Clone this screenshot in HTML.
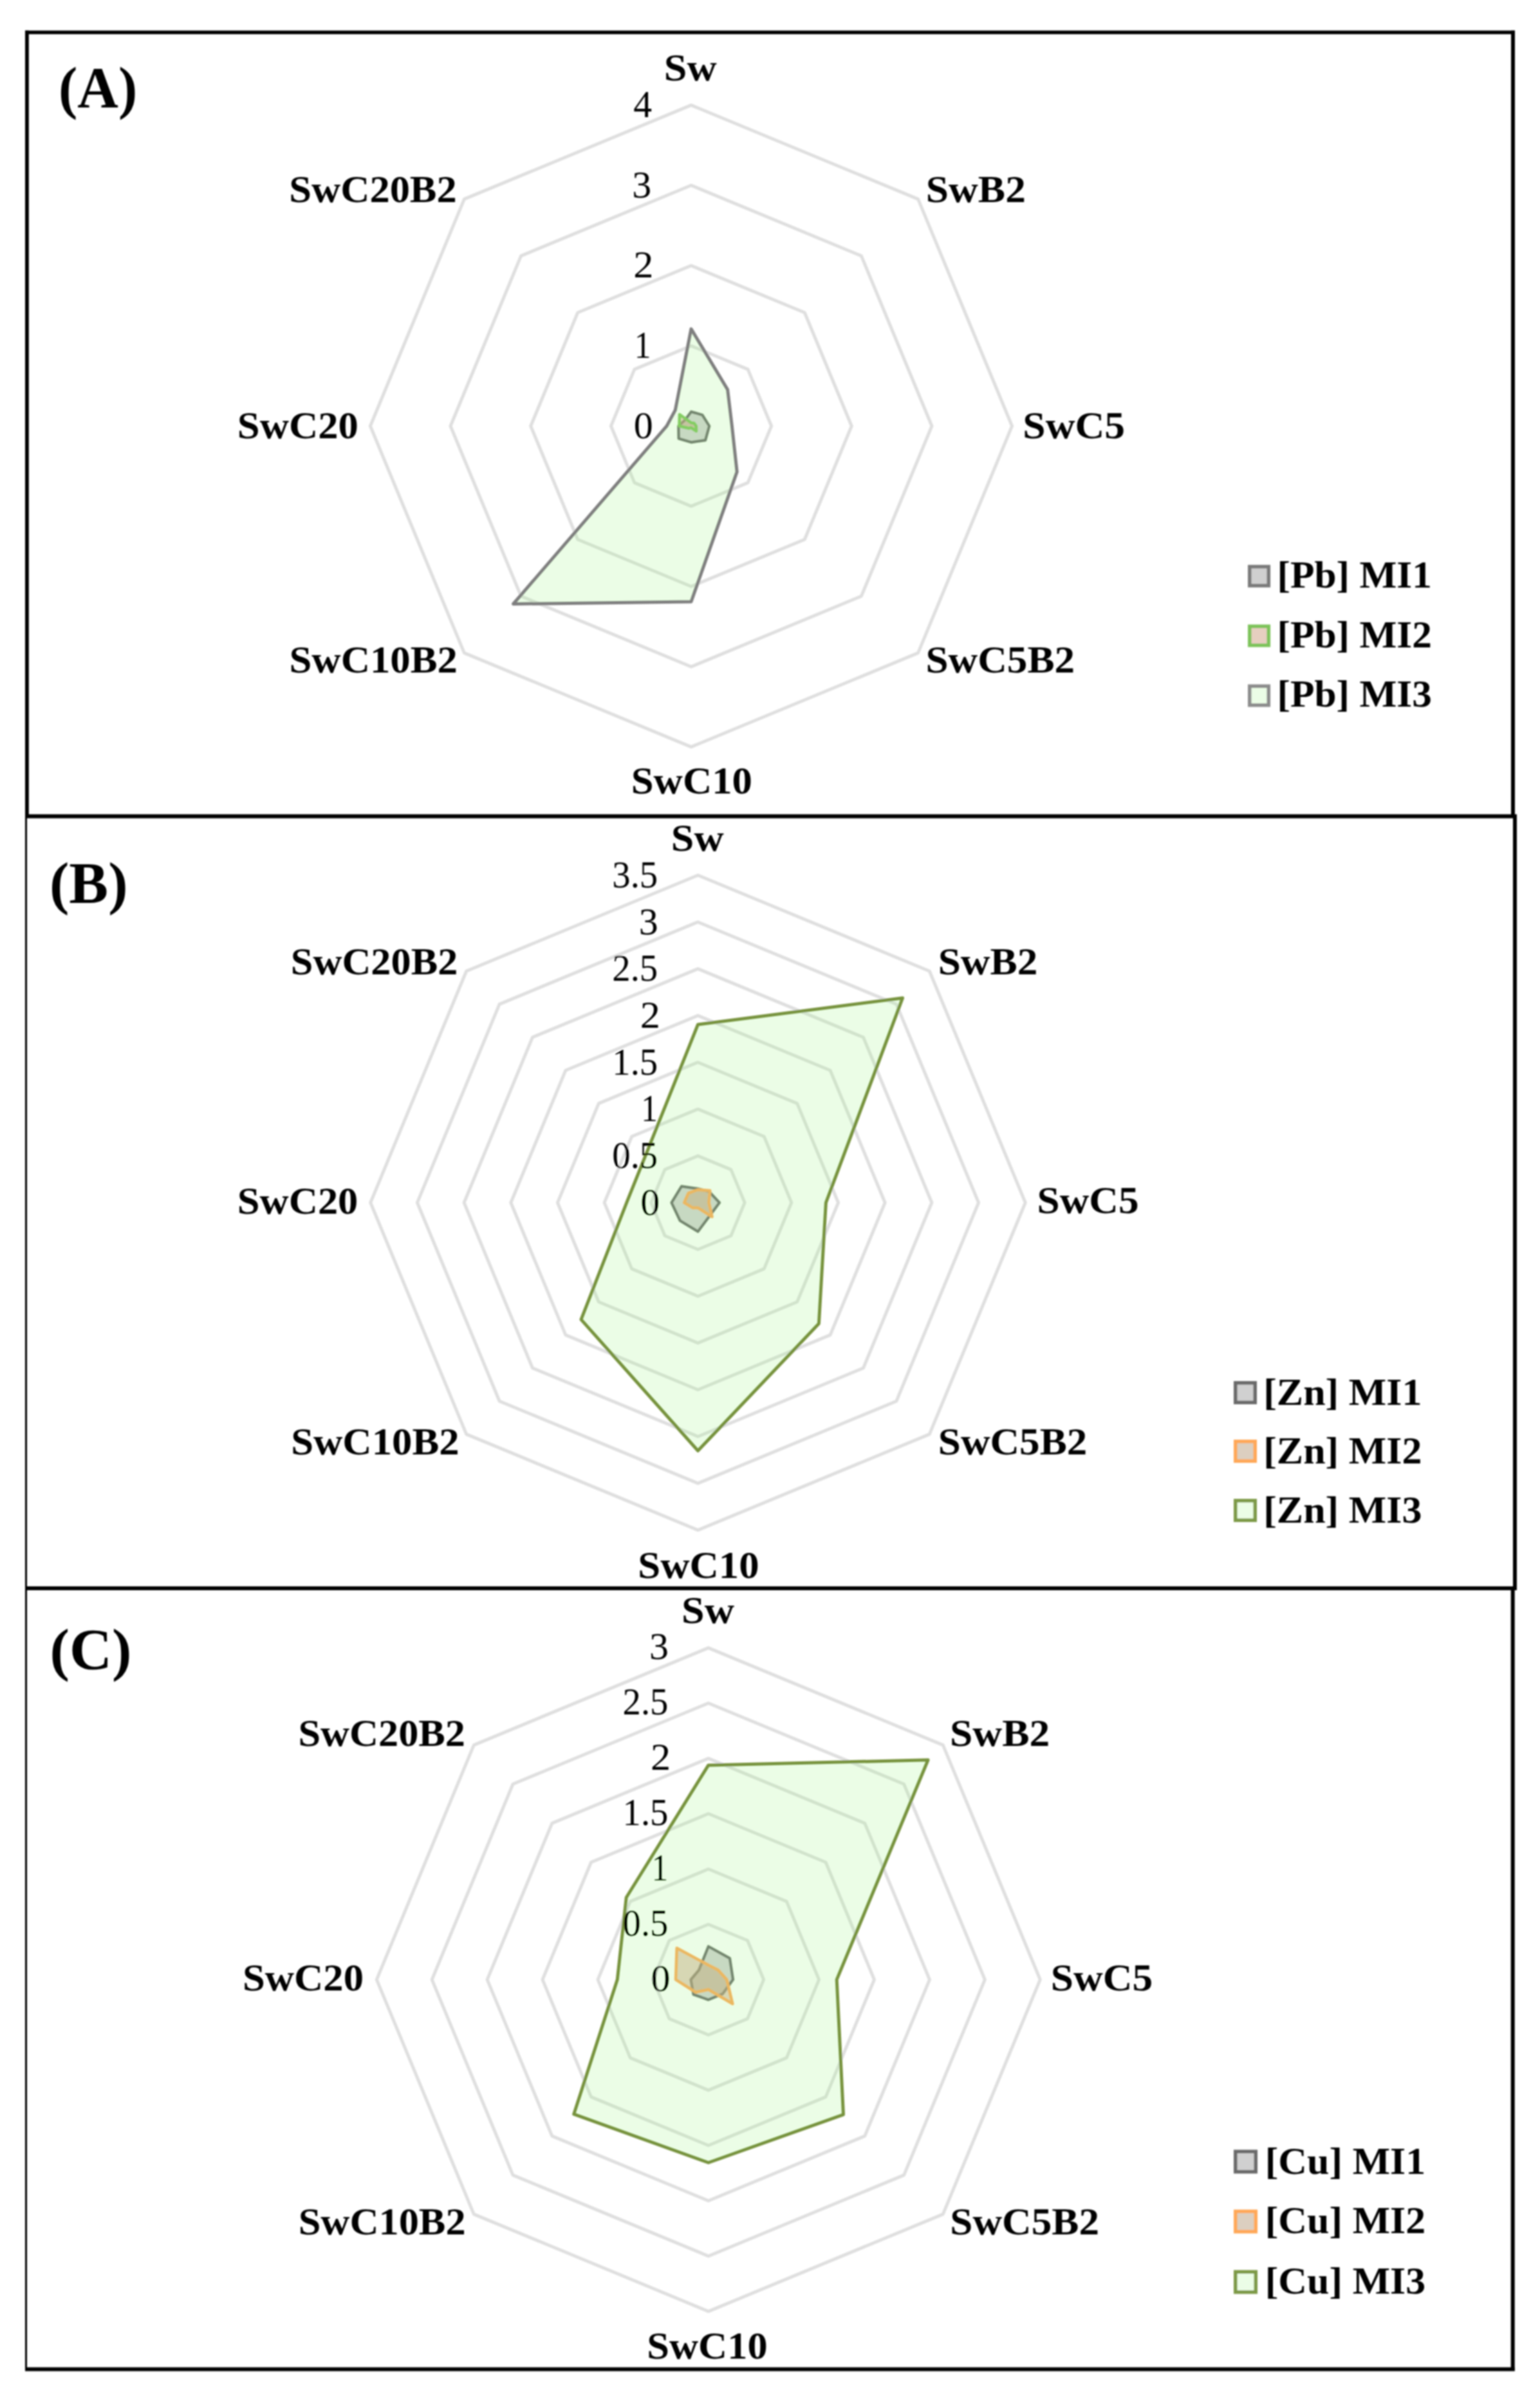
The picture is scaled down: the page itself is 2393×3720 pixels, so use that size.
<!DOCTYPE html>
<html lang="en"><head><meta charset="utf-8">
<style>html,body{margin:0;padding:0;background:#fff}svg{display:block}text{font-family:'Liberation Serif', 'DejaVu Serif', serif;fill:#000}</style></head><body>
<svg width="2393" height="3720" viewBox="0 0 2393 3720">
<rect width="2393" height="3720" fill="#fff"/>
<defs><filter id="soft" x="0" y="0" width="2393" height="3720" filterUnits="userSpaceOnUse"><feGaussianBlur stdDeviation="1.0"/></filter></defs>
<g filter="url(#soft)">
<g fill="none" stroke="#dfdfdf" stroke-width="5.0" stroke-linejoin="round">
<polygon points="1074.0,537.4 1162.1,573.9 1198.7,662.0 1162.1,750.1 1074.0,786.6 985.9,750.1 949.4,662.0 985.9,573.9"/>
<polygon points="1074.0,412.7 1250.3,485.7 1323.3,662.0 1250.3,838.3 1074.0,911.3 897.7,838.3 824.7,662.0 897.7,485.7"/>
<polygon points="1074.0,288.0 1338.4,397.6 1448.0,662.0 1338.4,926.4 1074.0,1036.0 809.6,926.4 700.0,662.0 809.6,397.6"/>
<polygon points="1074.0,163.4 1426.6,309.4 1572.6,662.0 1426.6,1014.6 1074.0,1160.6 721.4,1014.6 575.4,662.0 721.4,309.4"/>
</g>
<polygon points="1074.0,639.7 1091.3,644.7 1102.2,662.0 1096.1,684.1 1074.0,687.3 1054.6,681.4 1054.3,662.0 1064.5,652.5" fill="rgba(165,165,165,0.5)" stroke="#6a6a6a" stroke-width="4.2" stroke-linejoin="round"/>
<polygon points="1074.0,657.0 1078.5,657.5 1081.7,662.0 1081.9,669.9 1074.0,664.6 1070.5,665.5 1055.5,662.0 1056.0,644.0" fill="rgba(205,160,130,0.5)" stroke="#7dc35a" stroke-width="4.6" stroke-linejoin="round"/>
<polygon points="1074.0,511.1 1130.6,605.4 1137.4,662.0 1145.2,733.2 1074.0,935.0 797.5,938.5 1036.0,662.0 1049.3,637.3" fill="rgba(153,245,130,0.2)" stroke="#7f7f7f" stroke-width="5.0" stroke-linejoin="round"/>
<text x="984.7" y="680.5" font-size="60" font-weight="normal" text-anchor="start">0</text>
<text transform="translate(985.64 555.9) scale(0.8600 1)" font-size="60" font-weight="normal" text-anchor="start">1</text>
<text transform="translate(984.22 431.2) scale(1.0400 1)" font-size="60" font-weight="normal" text-anchor="start">2</text>
<text x="982.2" y="306.5" font-size="60" font-weight="normal" text-anchor="start">3</text>
<text transform="translate(984.16 181.9) scale(0.9600 1)" font-size="60" font-weight="normal" text-anchor="start">4</text>
<text transform="translate(1031.79 125.0) scale(1.0685 1)" font-size="60" font-weight="bold" text-anchor="start">Sw</text>
<text transform="translate(1438.83 314.0) scale(1.0567 1)" font-size="60" font-weight="bold" text-anchor="start">SwB2</text>
<text transform="translate(1589.32 681.0) scale(1.0586 1)" font-size="60" font-weight="bold" text-anchor="start">SwC5</text>
<text transform="translate(1438.44 1044.5) scale(1.0533 1)" font-size="60" font-weight="bold" text-anchor="start">SwC5B2</text>
<text transform="translate(980.66 1232.5) scale(1.0463 1)" font-size="60" font-weight="bold" text-anchor="start">SwC10</text>
<text transform="translate(449.46 1044.7) scale(1.0459 1)" font-size="60" font-weight="bold" text-anchor="start">SwC10B2</text>
<text transform="translate(368.87 681.0) scale(1.0446 1)" font-size="60" font-weight="bold" text-anchor="start">SwC20</text>
<text transform="translate(449.37 314.0) scale(1.0418 1)" font-size="60" font-weight="bold" text-anchor="start">SwC20B2</text>
<text transform="translate(90.99 167.0) scale(0.9786 1)" font-size="90" font-weight="bold" text-anchor="start">(A)</text>
<rect x="1941.8" y="880.5" width="29.5" height="29.5" fill="#d0d0d0" stroke="#7a7a7a" stroke-width="5.5"/>
<text transform="translate(1984.48 912.7) scale(1.0238 1)" font-size="60" font-weight="bold" text-anchor="start">[Pb] MI1</text>
<rect x="1941.8" y="973.2" width="29.5" height="29.5" fill="#e6cfc0" stroke="#7dc35a" stroke-width="5.5"/>
<text transform="translate(1984.48 1006.0) scale(1.0238 1)" font-size="60" font-weight="bold" text-anchor="start">[Pb] MI2</text>
<rect x="1941.8" y="1066.2" width="29.5" height="29.5" fill="#ebfde6" stroke="#8c8c8c" stroke-width="5.5"/>
<text transform="translate(1984.48 1098.4) scale(1.0238 1)" font-size="60" font-weight="bold" text-anchor="start">[Pb] MI3</text>
<g fill="none" stroke="#dfdfdf" stroke-width="5.0" stroke-linejoin="round">
<polygon points="1084.5,1796.1 1135.9,1817.4 1157.2,1868.8 1135.9,1920.2 1084.5,1941.5 1033.1,1920.2 1011.8,1868.8 1033.1,1817.4"/>
<polygon points="1084.5,1723.4 1187.3,1766.0 1229.9,1868.8 1187.3,1971.6 1084.5,2014.2 981.7,1971.6 939.1,1868.8 981.7,1766.0"/>
<polygon points="1084.5,1650.7 1238.7,1714.6 1302.6,1868.8 1238.7,2023.0 1084.5,2086.9 930.3,2023.0 866.4,1868.8 930.3,1714.6"/>
<polygon points="1084.5,1578.1 1290.1,1663.2 1375.2,1868.8 1290.1,2074.4 1084.5,2159.5 878.9,2074.4 793.8,1868.8 878.9,1663.2"/>
<polygon points="1084.5,1505.4 1341.5,1611.8 1447.9,1868.8 1341.5,2125.8 1084.5,2232.2 827.5,2125.8 721.1,1868.8 827.5,1611.8"/>
<polygon points="1084.5,1432.7 1392.9,1560.4 1520.6,1868.8 1392.9,2177.2 1084.5,2304.9 776.1,2177.2 648.4,1868.8 776.1,1560.4"/>
<polygon points="1084.5,1360.0 1444.3,1509.0 1593.3,1868.8 1444.3,2228.6 1084.5,2377.6 724.7,2228.6 575.7,1868.8 724.7,1509.0"/>
</g>
<polygon points="1084.5,1847.0 1101.8,1851.5 1118.0,1868.8 1103.7,1888.0 1084.5,1913.7 1056.6,1896.7 1043.5,1868.8 1059.0,1843.3" fill="rgba(165,165,165,0.5)" stroke="#6a6a6a" stroke-width="4.2" stroke-linejoin="round"/>
<polygon points="1084.5,1848.6 1103.2,1850.1 1101.5,1868.8 1106.5,1890.8 1084.5,1876.8 1076.4,1876.9 1063.2,1868.8 1069.7,1854.0" fill="rgba(205,160,130,0.5)" stroke="#ffa858" stroke-width="4.6" stroke-linejoin="round"/>
<polygon points="1084.5,1592.0 1402.6,1550.7 1283.4,1868.8 1272.4,2056.7 1084.5,2254.3 903.0,2050.3 973.7,1868.8 1005.4,1789.7" fill="rgba(153,245,130,0.2)" stroke="#77933c" stroke-width="5.0" stroke-linejoin="round"/>
<text x="995.2" y="1887.6" font-size="60" font-weight="normal" text-anchor="start">0</text>
<text transform="translate(951.31 1814.9) scale(0.9450 1)" font-size="60" font-weight="normal" text-anchor="start">0.5</text>
<text transform="translate(996.14 1742.2) scale(0.8600 1)" font-size="60" font-weight="normal" text-anchor="start">1</text>
<text transform="translate(951.31 1669.5) scale(0.9450 1)" font-size="60" font-weight="normal" text-anchor="start">1.5</text>
<text transform="translate(994.72 1596.9) scale(1.0400 1)" font-size="60" font-weight="normal" text-anchor="start">2</text>
<text transform="translate(951.31 1524.2) scale(0.9450 1)" font-size="60" font-weight="normal" text-anchor="start">2.5</text>
<text x="992.7" y="1451.5" font-size="60" font-weight="normal" text-anchor="start">3</text>
<text transform="translate(951.31 1378.8) scale(0.9450 1)" font-size="60" font-weight="normal" text-anchor="start">3.5</text>
<text transform="translate(1042.80 1322.0) scale(1.0671 1)" font-size="60" font-weight="bold" text-anchor="start">Sw</text>
<text transform="translate(1457.63 1513.5) scale(1.0553 1)" font-size="60" font-weight="bold" text-anchor="start">SwB2</text>
<text transform="translate(1611.54 1885.0) scale(1.0531 1)" font-size="60" font-weight="bold" text-anchor="start">SwC5</text>
<text transform="translate(1457.84 2260.3) scale(1.0523 1)" font-size="60" font-weight="bold" text-anchor="start">SwC5B2</text>
<text transform="translate(991.26 2452.1) scale(1.0463 1)" font-size="60" font-weight="bold" text-anchor="start">SwC10</text>
<text transform="translate(452.16 2260.0) scale(1.0459 1)" font-size="60" font-weight="bold" text-anchor="start">SwC10B2</text>
<text transform="translate(368.87 1885.5) scale(1.0417 1)" font-size="60" font-weight="bold" text-anchor="start">SwC20</text>
<text transform="translate(451.79 1513.5) scale(1.0381 1)" font-size="60" font-weight="bold" text-anchor="start">SwC20B2</text>
<text transform="translate(76.95 1402.5) scale(1.0134 1)" font-size="90" font-weight="bold" text-anchor="start">(B)</text>
<rect x="1919.8" y="2148.8" width="30.5" height="30.5" fill="#d0d0d0" stroke="#6a6a6a" stroke-width="5.5"/>
<text transform="translate(1963.13 2182.6) scale(1.0335 1)" font-size="60" font-weight="bold" text-anchor="start">[Zn] MI1</text>
<rect x="1919.8" y="2239.8" width="30.5" height="30.5" fill="#dccfc0" stroke="#ffa858" stroke-width="5.5"/>
<text transform="translate(1963.13 2273.5) scale(1.0335 1)" font-size="60" font-weight="bold" text-anchor="start">[Zn] MI2</text>
<rect x="1919.8" y="2331.8" width="30.5" height="30.5" fill="#ebfde6" stroke="#7d9a46" stroke-width="5.5"/>
<text transform="translate(1963.13 2365.5) scale(1.0335 1)" font-size="60" font-weight="bold" text-anchor="start">[Zn] MI3</text>
<g fill="none" stroke="#dfdfdf" stroke-width="5.0" stroke-linejoin="round">
<polygon points="1100.8,2990.2 1161.6,3015.3 1186.7,3076.1 1161.6,3136.9 1100.8,3162.0 1040.0,3136.9 1014.9,3076.1 1040.0,3015.3"/>
<polygon points="1100.8,2904.3 1222.3,2954.6 1272.6,3076.1 1222.3,3197.6 1100.8,3247.9 979.3,3197.6 929.0,3076.1 979.3,2954.6"/>
<polygon points="1100.8,2818.3 1283.1,2893.8 1358.5,3076.1 1283.1,3258.4 1100.8,3333.8 918.5,3258.4 843.0,3076.1 918.5,2893.8"/>
<polygon points="1100.8,2732.4 1343.8,2833.1 1444.5,3076.1 1343.8,3319.1 1100.8,3419.8 857.8,3319.1 757.1,3076.1 857.8,2833.1"/>
<polygon points="1100.8,2646.5 1404.6,2772.3 1530.4,3076.1 1404.6,3379.9 1100.8,3505.7 797.0,3379.9 671.2,3076.1 797.0,2772.3"/>
<polygon points="1100.8,2560.6 1465.3,2711.6 1616.3,3076.1 1465.3,3440.6 1100.8,3591.6 736.3,3440.6 585.3,3076.1 736.3,2711.6"/>
</g>
<polygon points="1100.8,3024.5 1134.0,3042.9 1139.1,3076.1 1122.9,3098.2 1100.8,3107.4 1077.6,3099.3 1073.5,3076.1 1086.0,3061.3" fill="rgba(165,165,165,0.5)" stroke="#6a6a6a" stroke-width="4.2" stroke-linejoin="round"/>
<polygon points="1100.8,3053.5 1115.8,3061.1 1129.3,3076.1 1138.4,3113.7 1100.8,3091.4 1081.1,3095.8 1050.0,3076.1 1051.7,3027.0" fill="rgba(205,160,130,0.5)" stroke="#ffa858" stroke-width="4.6" stroke-linejoin="round"/>
<polygon points="1100.8,2742.9 1442.1,2734.8 1300.2,3076.1 1310.5,3285.8 1100.8,3360.5 891.7,3285.2 959.3,3076.1 973.2,2948.5" fill="rgba(153,245,130,0.2)" stroke="#77933c" stroke-width="5.0" stroke-linejoin="round"/>
<text x="1011.5" y="3093.9" font-size="60" font-weight="normal" text-anchor="start">0</text>
<text transform="translate(967.61 3008.0) scale(0.9450 1)" font-size="60" font-weight="normal" text-anchor="start">0.5</text>
<text transform="translate(1012.44 2922.1) scale(0.8600 1)" font-size="60" font-weight="normal" text-anchor="start">1</text>
<text transform="translate(967.61 2836.2) scale(0.9450 1)" font-size="60" font-weight="normal" text-anchor="start">1.5</text>
<text transform="translate(1011.02 2750.2) scale(1.0400 1)" font-size="60" font-weight="normal" text-anchor="start">2</text>
<text transform="translate(967.61 2664.3) scale(0.9450 1)" font-size="60" font-weight="normal" text-anchor="start">2.5</text>
<text x="1009.0" y="2578.4" font-size="60" font-weight="normal" text-anchor="start">3</text>
<text transform="translate(1059.09 2522.0) scale(1.0685 1)" font-size="60" font-weight="bold" text-anchor="start">Sw</text>
<text transform="translate(1476.03 2713.0) scale(1.0582 1)" font-size="60" font-weight="bold" text-anchor="start">SwB2</text>
<text transform="translate(1632.63 3093.0) scale(1.0566 1)" font-size="60" font-weight="bold" text-anchor="start">SwC5</text>
<text transform="translate(1476.34 3472.0) scale(1.0533 1)" font-size="60" font-weight="bold" text-anchor="start">SwC5B2</text>
<text transform="translate(1005.28 3665.0) scale(1.0411 1)" font-size="60" font-weight="bold" text-anchor="start">SwC10</text>
<text transform="translate(463.68 3472.0) scale(1.0398 1)" font-size="60" font-weight="bold" text-anchor="start">SwC10B2</text>
<text transform="translate(376.97 3093.0) scale(1.0446 1)" font-size="60" font-weight="bold" text-anchor="start">SwC20</text>
<text transform="translate(463.49 2713.0) scale(1.0381 1)" font-size="60" font-weight="bold" text-anchor="start">SwC20B2</text>
<text transform="translate(77.54 2593.5) scale(1.0162 1)" font-size="90" font-weight="bold" text-anchor="start">(C)</text>
<rect x="1919.8" y="3343.2" width="31.5" height="31.5" fill="#d0d0d0" stroke="#6a6a6a" stroke-width="5.5"/>
<text transform="translate(1965.74 3378.0) scale(1.0325 1)" font-size="60" font-weight="bold" text-anchor="start">[Cu] MI1</text>
<rect x="1919.8" y="3436.2" width="31.5" height="31.5" fill="#dccfc0" stroke="#ffa858" stroke-width="5.5"/>
<text transform="translate(1965.74 3470.4) scale(1.0325 1)" font-size="60" font-weight="bold" text-anchor="start">[Cu] MI2</text>
<rect x="1919.8" y="3530.2" width="31.5" height="31.5" fill="#ebfde6" stroke="#7d9a46" stroke-width="5.5"/>
<text transform="translate(1965.74 3563.6) scale(1.0325 1)" font-size="60" font-weight="bold" text-anchor="start">[Cu] MI3</text>
<g fill="#000">
<rect x="39.0" y="47.5" width="2315.0" height="5.6"/>
<rect x="39.0" y="47.5" width="5.8" height="1221.0"/>
<rect x="2348.0" y="47.5" width="6.0" height="1221.0"/>
<rect x="39.0" y="1265.3" width="2318.0" height="6.2"/>
<rect x="39.0" y="1268.0" width="3.0" height="1200.0"/>
<rect x="2351.0" y="1268.0" width="6.0" height="1200.0"/>
<rect x="39.0" y="2465.0" width="2318.0" height="6.0"/>
<rect x="39.0" y="2468.0" width="3.0" height="1215.0"/>
<rect x="2347.7" y="2468.0" width="6.0" height="1216.0"/>
<rect x="39.0" y="3678.5" width="2314.7" height="6.0"/>
</g>
</g>
</svg></body></html>
